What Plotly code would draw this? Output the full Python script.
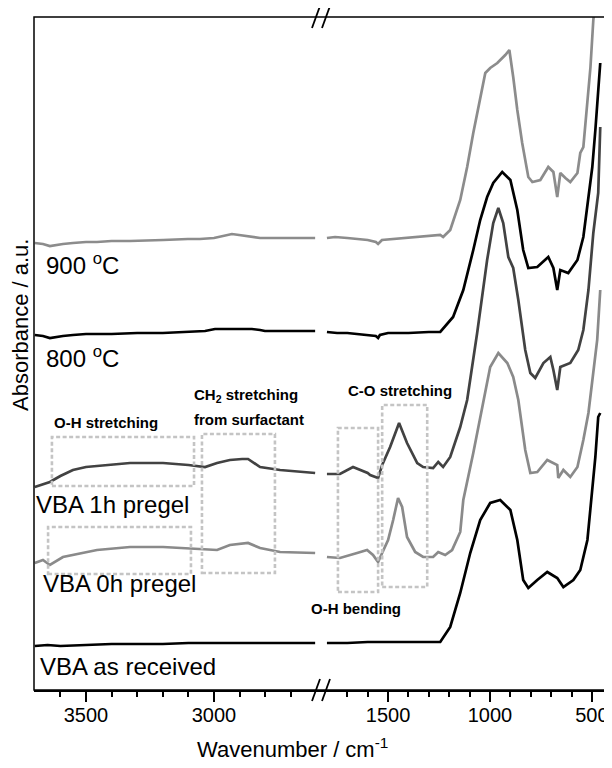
import plotly.graph_objects as go

# ---------------- data (absorbance in arbitrary units, offset stacked) ----------------
BREAK_WN = 2000  # spectra points above this wavenumber go on the left panel

wn_900 = [3700, 3668, 3641, 3621, 3590, 3551, 3500, 3457, 3400, 3328, 3250, 3199, 3102, 3055, 3000, 2970, 2953, 2930,
          2902, 2871, 2852, 2820, 2742, 2605,
          1800, 1760, 1700, 1650, 1600, 1560, 1549, 1530, 1480, 1400, 1300, 1244, 1230, 1195, 1146, 1112, 1082, 1048,
          1023, 999, 964, 925, 905, 886, 866, 842, 812, 792, 770, 753, 714, 689, 670, 655, 630, 606, 571, 557, 542,
          522, 507, 493, 478]
abs_900 = [447, 446, 444, 445, 446, 447, 448, 448, 449, 449, 450, 450, 451, 451, 452, 454, 455, 456,
           455, 454, 453, 452, 452, 452,
           452, 453, 452, 451, 450, 448, 446, 450, 451, 452, 454, 455, 453, 460, 490, 523, 557, 590,
           617, 622, 627, 635, 640, 613, 580, 547, 513, 508, 509, 510, 523, 518, 493, 517, 512, 508, 517, 537, 543,
           587, 623, 670, 700]

wn_800 = [3700, 3668, 3641, 3621, 3590, 3551, 3500, 3400, 3300, 3200, 3100, 3035, 2996, 2950, 2900, 2852, 2820, 2801,
          2700, 2605,
          1800, 1750, 1700, 1650, 1600, 1560, 1549, 1540, 1500, 1400, 1300, 1244, 1181, 1131, 1082, 1048, 1014, 984,
          940, 900, 866, 837, 812, 768, 714, 689, 670, 655, 616, 571, 542, 517, 498, 483, 469, 459]
abs_800 = [355, 354, 352, 353, 354, 355, 356, 356, 357, 357, 358, 359, 361, 361, 361, 361, 360, 359,
           359, 359,
           358, 357, 357, 356, 355, 354, 352, 355, 357, 357, 358, 358, 373, 400, 440, 470, 493, 507,
           518, 510, 480, 440, 422, 423, 433, 422, 400, 420, 417, 430, 453, 490, 523, 560, 600, 627]

wn_1h = [3700, 3641, 3600, 3551, 3500, 3457, 3400, 3328, 3250, 3199, 3100, 3066, 3035, 2988, 2938, 2890, 2867, 2820,
         2742, 2605,
         1800, 1736, 1672, 1600, 1588, 1549, 1529, 1490, 1446, 1407, 1357, 1328, 1279, 1254, 1230, 1195, 1146, 1112,
         1063, 1014, 984, 959, 935, 910, 886, 861, 827, 802, 778, 738, 704, 689, 670, 655, 606, 567, 542, 517, 493,
         469, 459]
abs_1h = [203, 208, 214, 220, 223, 224, 226, 227, 227, 227, 225, 224, 223, 227, 230, 231, 231, 223,
          220, 217,
          216, 216, 223, 217, 215, 212, 225, 243, 267, 247, 227, 223, 222, 228, 223, 233, 263, 290,
          357, 430, 467, 482, 467, 433, 422, 390, 340, 317, 312, 327, 333, 320, 300, 323, 327, 340, 360, 400, 457,
          497, 563]

wn_0h = [3700, 3668, 3641, 3590, 3457, 3328, 3199, 3066, 2988, 2938, 2867, 2820, 2742, 2605,
         1800, 1736, 1652, 1603, 1574, 1549, 1529, 1500, 1475, 1451, 1431, 1407, 1367, 1328, 1279, 1254, 1220, 1186,
         1146, 1131, 1082, 1033, 999, 959, 915, 886, 861, 827, 802, 768, 719, 670, 665, 640, 606, 571, 542, 517, 493,
         474, 459]
abs_0h = [127, 130, 125, 133, 140, 143, 143, 141, 140, 145, 147, 142, 138, 137,
          133, 132, 137, 140, 135, 128, 137, 150, 170, 192, 183, 153, 138, 133, 133, 138, 135, 140,
          158, 190, 237, 290, 323, 337, 327, 313, 290, 240, 217, 218, 230, 225, 212, 220, 213, 223, 250, 277, 317,
          350, 400]

wn_raw = [3700, 3650, 3600, 3500, 3400, 3300, 3200, 3100, 3000, 2900, 2800, 2700, 2605,
          1800, 1700, 1600, 1500, 1400, 1300, 1244, 1195, 1146, 1097, 1048, 999, 950, 900, 866, 837, 812, 768, 719,
          670, 640, 591, 557, 522, 498, 483, 469, 459]
abs_raw = [44, 45, 44, 45, 46, 46, 46, 47, 47, 47, 47, 47, 47,
           47, 47, 48, 48, 48, 48, 48, 63, 97, 137, 170, 187, 190, 180, 150, 110, 102, 110, 118,
           112, 103, 110, 120, 150, 200, 233, 273, 277]

series = [
    ("900 °C", wn_900, abs_900, "#8c8c8c"),
    ("800 °C", wn_800, abs_800, "#000000"),
    ("VBA 1h pregel", wn_1h, abs_1h, "#424242"),
    ("VBA 0h pregel", wn_0h, abs_0h, "#8a8a8a"),
    ("VBA as received", wn_raw, abs_raw, "#000000"),
]

left_major = [3500, 3000]
right_major = [1500, 1000, 500]
left_minor = [3600, 3400, 3300, 3200, 3100, 2900, 2800, 2700]
right_minor = [1700, 1600, 1400, 1300, 1200, 1100, 900, 800, 700, 600]

# ---------------- figure ----------------
# the page body keeps an 8 px default margin, so the figure is sized/placed to compensate
PAGE_W, PAGE_H, OFF = 612, 768, 8
W, H = PAGE_W - OFF, PAGE_H - OFF
L, R, T, B = 34, 608, 17, 690  # plot-area edges in page pixels
FONT = "Liberation Sans, Arial, sans-serif"


def px(x):
    return (x - L) / (R - L)


def py(y):
    return (B - y) / (B - T)


fig = go.Figure()
for name, wn, ab, col in series:
    lx = [w for w in wn if w > BREAK_WN]
    ly = [a for w, a in zip(wn, ab) if w > BREAK_WN]
    rx = [w for w in wn if w <= BREAK_WN]
    ry = [a for w, a in zip(wn, ab) if w <= BREAK_WN]
    fig.add_trace(go.Scatter(x=lx, y=ly, xaxis="x", yaxis="y", mode="lines", name=name,
                             line=dict(color=col, width=2.7), showlegend=False, hoverinfo="skip"))
    fig.add_trace(go.Scatter(x=rx, y=ry, xaxis="x2", yaxis="y", mode="lines", name=name,
                             line=dict(color=col, width=2.7), showlegend=False, hoverinfo="skip"))

dom_split = px(320)
axis_common = dict(showgrid=False, zeroline=False, showline=True, linecolor="black", linewidth=1.5,
                   ticks="outside", ticklen=10, tickwidth=1.5, tickcolor="black", automargin=False,
                   ticklabelstandoff=-4,
                   tickfont=dict(family=FONT, size=20, color="black"), anchor="y")
fig.update_layout(
    width=W, height=H,
    margin=dict(l=L - OFF, r=PAGE_W - R, t=T - OFF, b=PAGE_H - B, autoexpand=False),
    paper_bgcolor="white", plot_bgcolor="white",
    xaxis=dict(domain=[0, dom_split], range=[3703, 2586], tickmode="array", tickvals=left_major,
               minor=dict(tickmode="array", tickvals=left_minor, ticks="outside", ticklen=5,
                          tickwidth=1.5, tickcolor="black"), **axis_common),
    xaxis2=dict(domain=[dom_split, 1], range=[1834, 421], tickmode="array", tickvals=right_major,
                minor=dict(tickmode="array", tickvals=right_minor, ticks="outside", ticklen=5,
                           tickwidth=1.5, tickcolor="black"), **axis_common),
    yaxis=dict(range=[0, B - T], showticklabels=False, showgrid=False, zeroline=False, showline=False,
               ticks="", automargin=False),
)

shapes = []
# frame
shapes.append(dict(type="rect", xref="paper", yref="paper", x0=0, x1=1, y0=0, y1=1,
                   line=dict(color="black", width=1.5), layer="above"))
# axis break marks (top and bottom)
for yb in (T, B):
    for x0 in (312, 322):
        shapes.append(dict(type="line", xref="paper", yref="paper",
                           x0=px(x0), y0=py(yb + 11), x1=px(x0 + 8), y1=py(yb - 11),
                           line=dict(color="black", width=1.8)))
# dotted highlight boxes
box_style = dict(color="#c4c4c4", width=2.6, dash="4px,2.5px")
boxes = [
    ("x", 3633, 3078, 253, 204),
    ("x", 3047, 2762, 256, 117),
    ("x", 3648, 3090, 163, 116),
    ("x2", 1746, 1549, 262, 98),
    ("x2", 1529, 1308, 285, 103),
]
for xr, xa, xb, ya, yb in boxes:
    shapes.append(dict(type="rect", xref=xr, yref="y", x0=xa, x1=xb, y0=yb, y1=ya,
                       line=box_style, layer="above"))
fig.update_layout(shapes=shapes)

ann = []


def text(x, y, s, size, bold=False, anchor="left", angle=0):
    ann.append(dict(xref="paper", yref="paper", x=px(x), y=py(y), text=("<b>%s</b>" % s) if bold else s,
                    showarrow=False, xanchor=anchor, yanchor="middle", textangle=angle,
                    font=dict(family=FONT, size=size, color="black")))


text(44, 264, "900 <sup>o</sup>C", 24)
text(44, 357, "800 <sup>o</sup>C", 24)
text(34, 504, "VBA 1h pregel", 24)
text(41, 583, "VBA 0h pregel", 24)
text(38, 666, "VBA as received", 24)
text(52, 422, "O-H stretching", 15, bold=True)
text(192, 395, "CH<sub>2</sub> stretching", 15, bold=True)
text(192, 419, "from surfactant", 15, bold=True)
text(346, 390, "C-O stretching", 15, bold=True)
text(309, 608, "O-H bending", 15, bold=True)
text(292, 748, "Wavenumber / cm<sup>-1</sup>", 22, anchor="center")
text(20, 325, "Absorbance / a.u.", 22, anchor="center", angle=-90)
fig.update_layout(annotations=ann)

fig.write_html("out.html")
